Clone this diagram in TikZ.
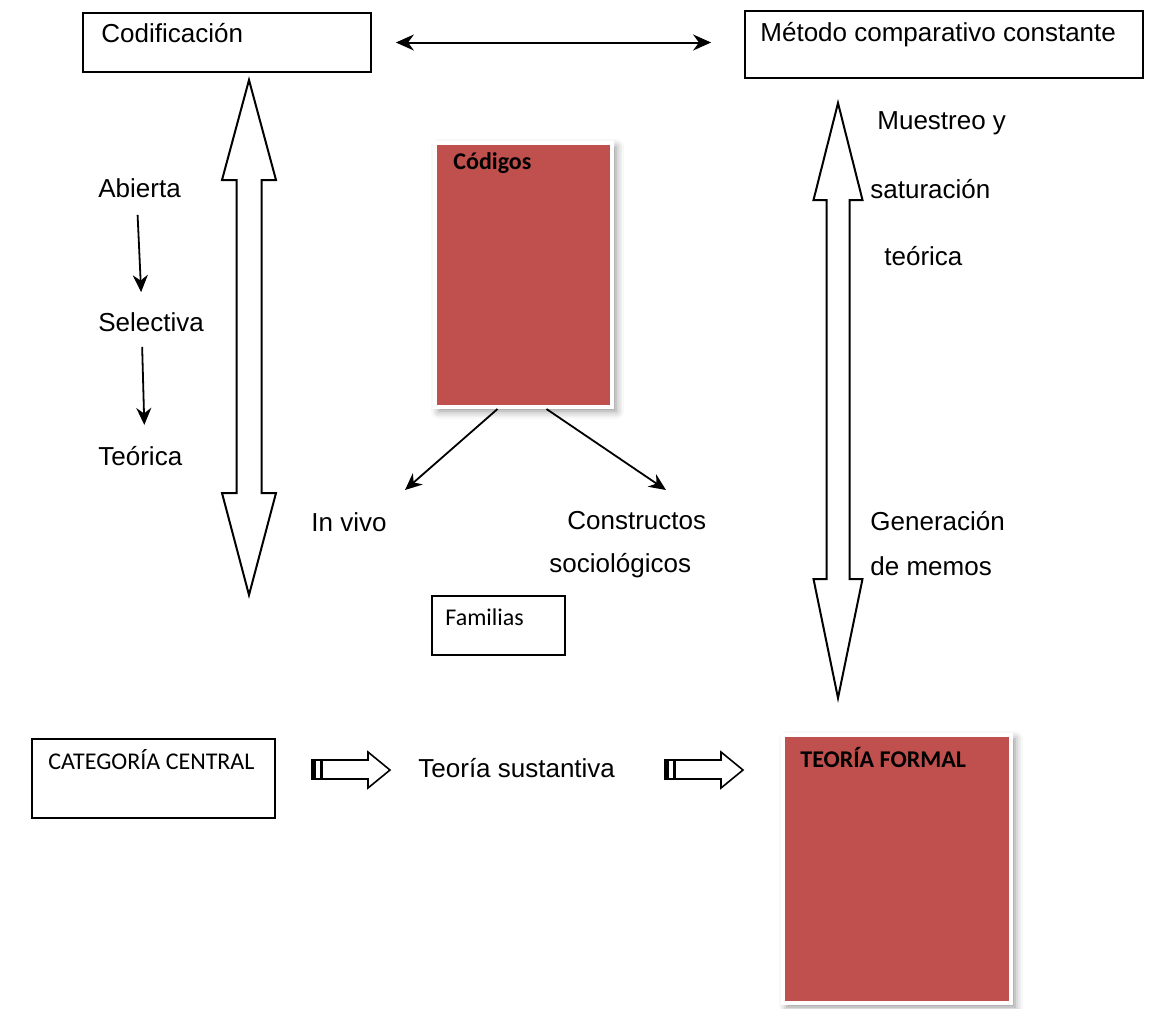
\documentclass[tikz,border=0pt]{standalone}
\usepackage{fontspec}
\setmainfont{Liberation Sans}
\newfontfamily\calibri{Carlito}
\usetikzlibrary{arrows.meta,shadows.blur}
\definecolor{codred}{RGB}{192,80,77}

\begin{document}
\begin{tikzpicture}[x=0.5pt, y=-0.5pt, font=\fontsize{13}{15}\selectfont,
	txt/.style={anchor=west, inner sep=0pt},
	small/.style={anchor=west, inner sep=0pt, font=\calibri\fontsize{12}{14}\selectfont},
	smallbold/.style={small, font=\calibri\bfseries\fontsize{12}{14}\selectfont},
	box/.style={draw, line width=0.9pt, inner sep=0pt},
	redbox/.style={fill=codred, draw=white, line width=2pt, inner sep=0pt,
		blur shadow={shadow xshift=2pt, shadow yshift=-2pt, shadow blur radius=4pt, shadow opacity=45}},
	thinarr/.style={-{Stealth[length=8.5pt,width=7.5pt]}, line width=0.9pt},
	blockarr/.style={line width=1pt, fill=white, line join=miter}]
	\useasboundingbox (0,0) rectangle (1156,1008);
	%boxes
	\node[box, minimum width=144pt, minimum height=29.5pt] (codif) at (227,42.5) {};
	\node[txt] (codiftxt) at (101,33) {Codificación};
	\node[box, minimum width=199pt, minimum height=33.5pt] (metodo) at (944,44.5) {};
	\node[txt] (metodotxt) at (760,35) {Método comparativo constante};
	\node[box, minimum width=66.5pt, minimum height=29.5pt] (familias) at (498.5,625.5) {};
	\node[small] (familiastxt) at (445,617) {Familias};
	\node[box, minimum width=121.5pt, minimum height=39.5pt] (categoria) at (153.5,778.5) {};
	\node[small] (categoriatxt) at (48,760) {CATEGORÍA CENTRAL};
	%red boxes
	\node[redbox, minimum width=88.5pt, minimum height=132pt] (codigos) at (523.5,275) {};
	\node[smallbold] (codigostxt) at (453,163) {Códigos};
	\node[redbox, minimum width=114pt, minimum height=134pt] (formal) at (897,869) {};
	\node[smallbold] (formaltxt) at (800,757) {TEORÍA FORMAL};
	%left column
	\node[txt] (abierta) at (98,188) {Abierta};
	\node[txt] (selectiva) at (98,322) {Selectiva};
	\node[txt] (teorica) at (98,456) {Teórica};
	\draw[thinarr] ([shift={(-2,17)}]abierta.south) -- ([shift={(-10,-20)}]selectiva.north);
	\draw[thinarr] ([shift={(-9,15)}]selectiva.south) -- ([shift={(4,-21)}]teorica.north);
	%codes
	\node[txt] (invivo) at (311,522) {In vivo};
	\node[txt] (constructos) at (567,521) {Constructos};
	\node[txt] (sociologicos) at (549,566) {sociológicos};
	\coordinate (vivoend) at (405,490);
	\coordinate (constend) at (666,490);
	\draw[thinarr] ([xshift=-13pt]codigos.south) -- (vivoend);
	\draw[thinarr] ([xshift=11.5pt]codigos.south) -- (constend);
	%right column
	\node[txt] (muestreo) at (877,123) {Muestreo y};
	\node[txt] (saturacion) at (870,189) {saturación};
	\node[txt] (teorica2) at (884,256) {teórica};
	\node[txt] (generacion) at (870,521) {Generación};
	\node[txt] (memos) at (870,566) {de memos};
	%bottom row
	\node[txt] (sustantiva) at (418,768) {Teoría sustantiva};
	%arrows
	\draw[{Stealth[length=9pt,width=8pt]}-{Stealth[length=9pt,width=8pt]}, line width=1pt,
		shorten <=12pt, shorten >=16.5pt] (codif.east) -- (codif.east -| metodo.west);
	\foreach \cx/\sw/\hw/\ta/\tb/\bb/\bt in {249/12.5/27/80/180/493/595, 838/11.5/24.5/103/200/579/698}
	\draw[blockarr] (\cx,\ta) -- (\cx+\hw,\tb) -- (\cx+\sw,\tb) -- (\cx+\sw,\bb) -- (\cx+\hw,\bb)
		-- (\cx,\bt) -- (\cx-\hw,\bb) -- (\cx-\sw,\bb) -- (\cx-\sw,\tb) -- (\cx-\hw,\tb) -- cycle;
	\foreach \sx in {312,665} {
		\draw[blockarr, line width=0.8pt] (\sx,760) -- (\sx+56,760) -- (\sx+56,752) -- (\sx+78,770)
			-- (\sx+56,788) -- (\sx+56,779) -- (\sx,779) -- cycle;
		\fill (\sx,760) rectangle (\sx+4,779);
		\fill (\sx+8,760) rectangle (\sx+11,779);
	}
\end{tikzpicture}
\end{document}
